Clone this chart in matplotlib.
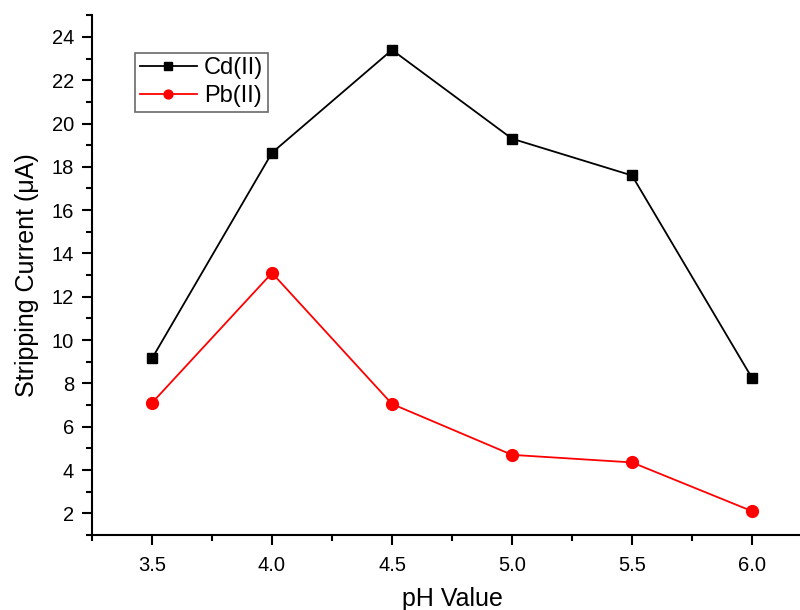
import matplotlib
matplotlib.use("Agg")
import matplotlib.pyplot as plt
from matplotlib.ticker import MultipleLocator, FormatStrFormatter

plt.rcParams['font.family'] = ['Liberation Sans', 'DejaVu Sans']

ph = [3.5, 4.0, 4.5, 5.0, 5.5, 6.0]
cd = [9.15, 18.65, 23.4, 19.3, 17.6, 8.25]
pb = [7.1, 13.1, 7.05, 4.7, 4.35, 2.1]

fig = plt.figure(figsize=(8, 6.1), dpi=100)
ax = fig.add_axes([0.115, 0.123, 0.9, 0.852])

ax.plot(ph, cd, color='black', marker='s', markersize=7.5, linewidth=1.3, label='Cd(II)')
ax.plot(ph, pb, color='red', marker='o', markersize=8.5, linewidth=1.3, label='Pb(II)')

ax.set_xlim(3.25, 6.25)
ax.set_ylim(1, 25)
ax.xaxis.set_major_locator(MultipleLocator(0.5))
ax.xaxis.set_minor_locator(MultipleLocator(0.25))
ax.yaxis.set_major_locator(MultipleLocator(2))
ax.yaxis.set_minor_locator(MultipleLocator(1))
ax.xaxis.set_major_formatter(FormatStrFormatter('%.1f'))

for s in ['top', 'right']:
    ax.spines[s].set_visible(False)
for s in ['left', 'bottom']:
    ax.spines[s].set_linewidth(1.5)

ax.tick_params(which='major', direction='out', length=7, width=1.5, labelsize=14.5)
ax.tick_params(which='minor', direction='out', length=4, width=1.5)
ax.tick_params(axis='x', pad=8)
ax.tick_params(axis='y', pad=6)

ax.set_xlabel('pH Value', fontsize=18, labelpad=9)
ax.set_ylabel('Stripping Current (μA)', fontsize=18, labelpad=9)

leg = ax.legend(loc='upper left', bbox_to_anchor=(0.06, 0.928), fontsize=17,
                frameon=True, fancybox=False, edgecolor='#444444',
                handlelength=2.4, borderpad=0.2, labelspacing=0.25,
                handletextpad=0.3, borderaxespad=0, markerscale=0.75)
leg.get_frame().set_linewidth(1.2)

fig.savefig('out.png', dpi=100)
